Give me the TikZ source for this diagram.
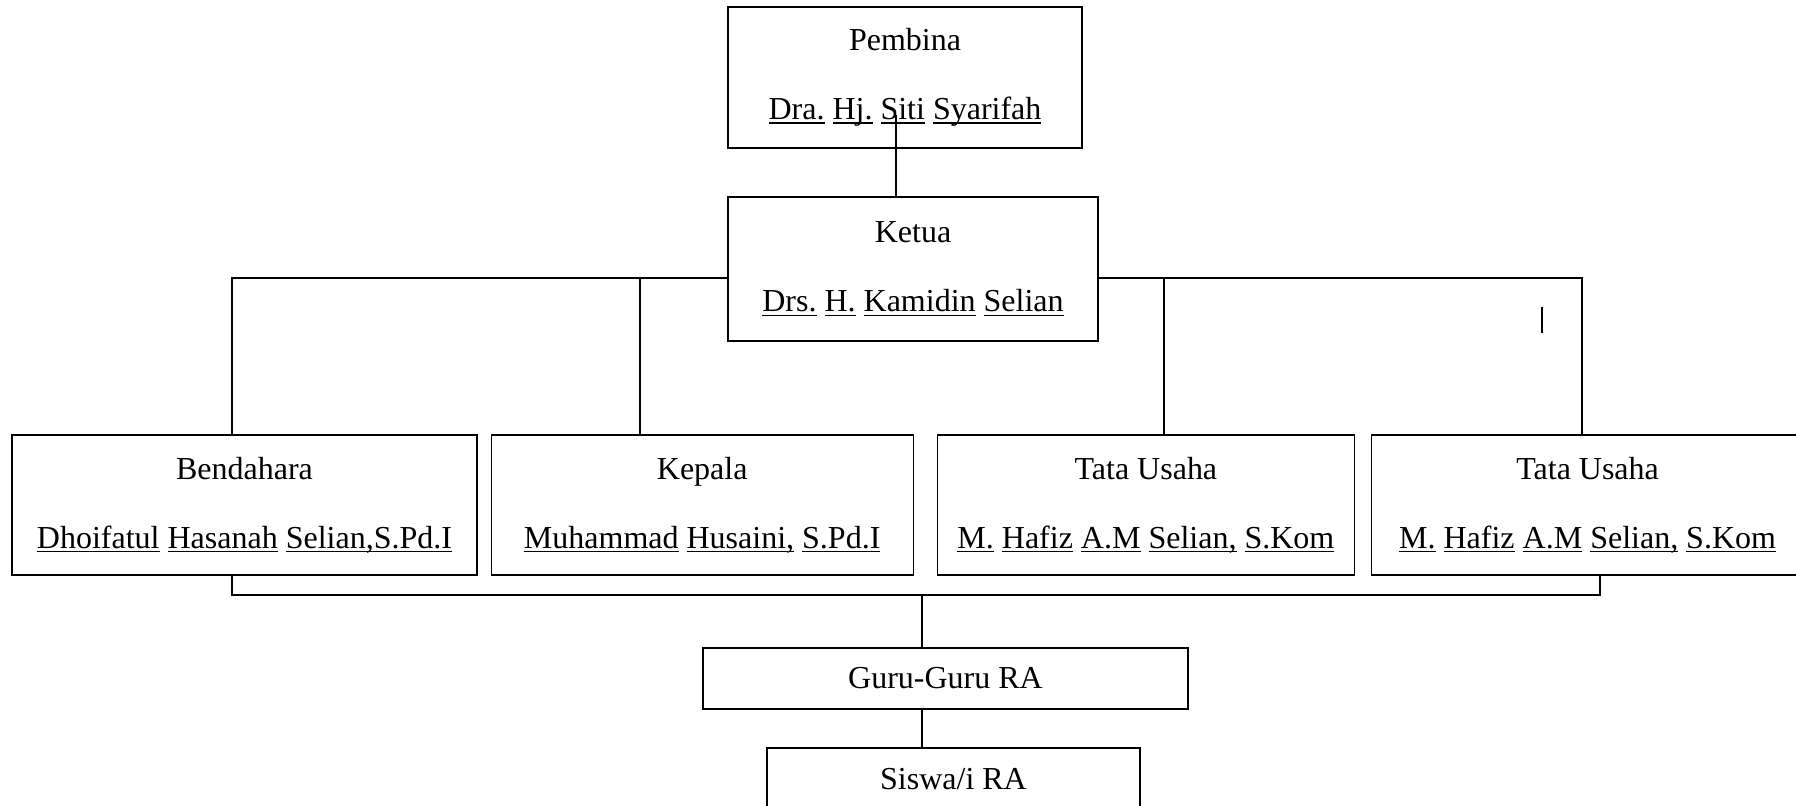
\documentclass[tikz,border=0pt]{standalone}
\usepackage{fontspec}
\setmainfont{Liberation Serif}
\usetikzlibrary{positioning}
\newcommand{\uw}[1]{\leavevmode\setbox0=\hbox{#1}\rlap{\rule[-2pt]{\wd0}{0.7pt}}\box0\relax}
\tikzset{org node/.style={draw,line width=0.6pt,align=center,inner sep=0pt,
            font=\fontsize{16}{17.25}\selectfont},
         org line/.style={line width=0.6pt},
            }

\begin{document}
\begin{tikzpicture}[x=0.5pt,y=-0.5pt]
    \useasboundingbox (0,0) rectangle (1796,806);
    \clip (0,0) rectangle (1796,806);

    \node[org node,minimum width=177pt,minimum height=70.5pt] (pembina) at (905,77.5)
        {Pembina\\[17.25pt]\uw{Dra.} \uw{Hj.} \uw{Siti} \uw{Syarifah}};
    \node[org node,minimum width=185pt,minimum height=72pt] (ketua) at (913,269)
        {Ketua\\[17.25pt]\uw{Drs.} \uw{H.} \uw{Kamidin} \uw{Selian}};

    \node[org node,minimum width=232.5pt,minimum height=70pt] (bendahara) at (244.5,505)
        {Bendahara\\[17.25pt]\uw{Dhoifatul} \uw{Hasanah} \uw{Selian,S.Pd.I}};
    \node[org node,minimum width=211pt,minimum height=70pt] (kepala) [right = 6.5pt of bendahara]
        {Kepala\\[17.25pt]\uw{Muhammad} \uw{Husaini,} \uw{S.Pd.I}};
    \node[org node,minimum width=208.5pt,minimum height=70pt] (tu1) [right = 11.5pt of kepala]
        {Tata Usaha\\[17.25pt]\uw{M.} \uw{Hafiz} \uw{A.M} \uw{Selian,} \uw{S.Kom}};
    \node[org node,minimum width=216pt,minimum height=70pt] (tu2) [right = 8pt of tu1]
        {Tata Usaha\\[17.25pt]\uw{M.} \uw{Hafiz} \uw{A.M} \uw{Selian,} \uw{S.Kom}};

    \node[org node,minimum width=242.5pt,minimum height=30.5pt] (guru) at (945.5,678.5) {Guru-Guru RA};
    \node[org node,minimum width=186.5pt,minimum height=31.5pt] (siswa) at (953.5,779.5) {Siswa/i RA};

    \coordinate (pb) at (896,115);
    \coordinate (j1) at (232,278);
    \coordinate (j2) at (640,278);
    \coordinate (j3) at (1164,278);
    \coordinate (j4) at (1582,278);
    \coordinate (b1) at (232,595);
    \coordinate (b2) at (922,595);
    \coordinate (b3) at (1600,595);

    \path[draw,org line]
    (pb) -- (pb |- ketua.north)
    (ketua.west |- j1) -- (j1) -- (j1 |- bendahara.north)
    (j2) -- (j2 |- kepala.north)
    (ketua.east |- j4) -- (j4) -- (j4 |- tu2.north)
    (j3) -- (j3 |- tu1.north)
    (b1 |- bendahara.south) -- (b1) -- (b3) -- (b3 |- tu2.south)
    (b2) -- (b2 |- guru.north)
    (b2 |- guru.south) -- (b2 |- siswa.north);

    \draw[org line] (1542,307) -- (1542,333);
\end{tikzpicture}
\end{document}
